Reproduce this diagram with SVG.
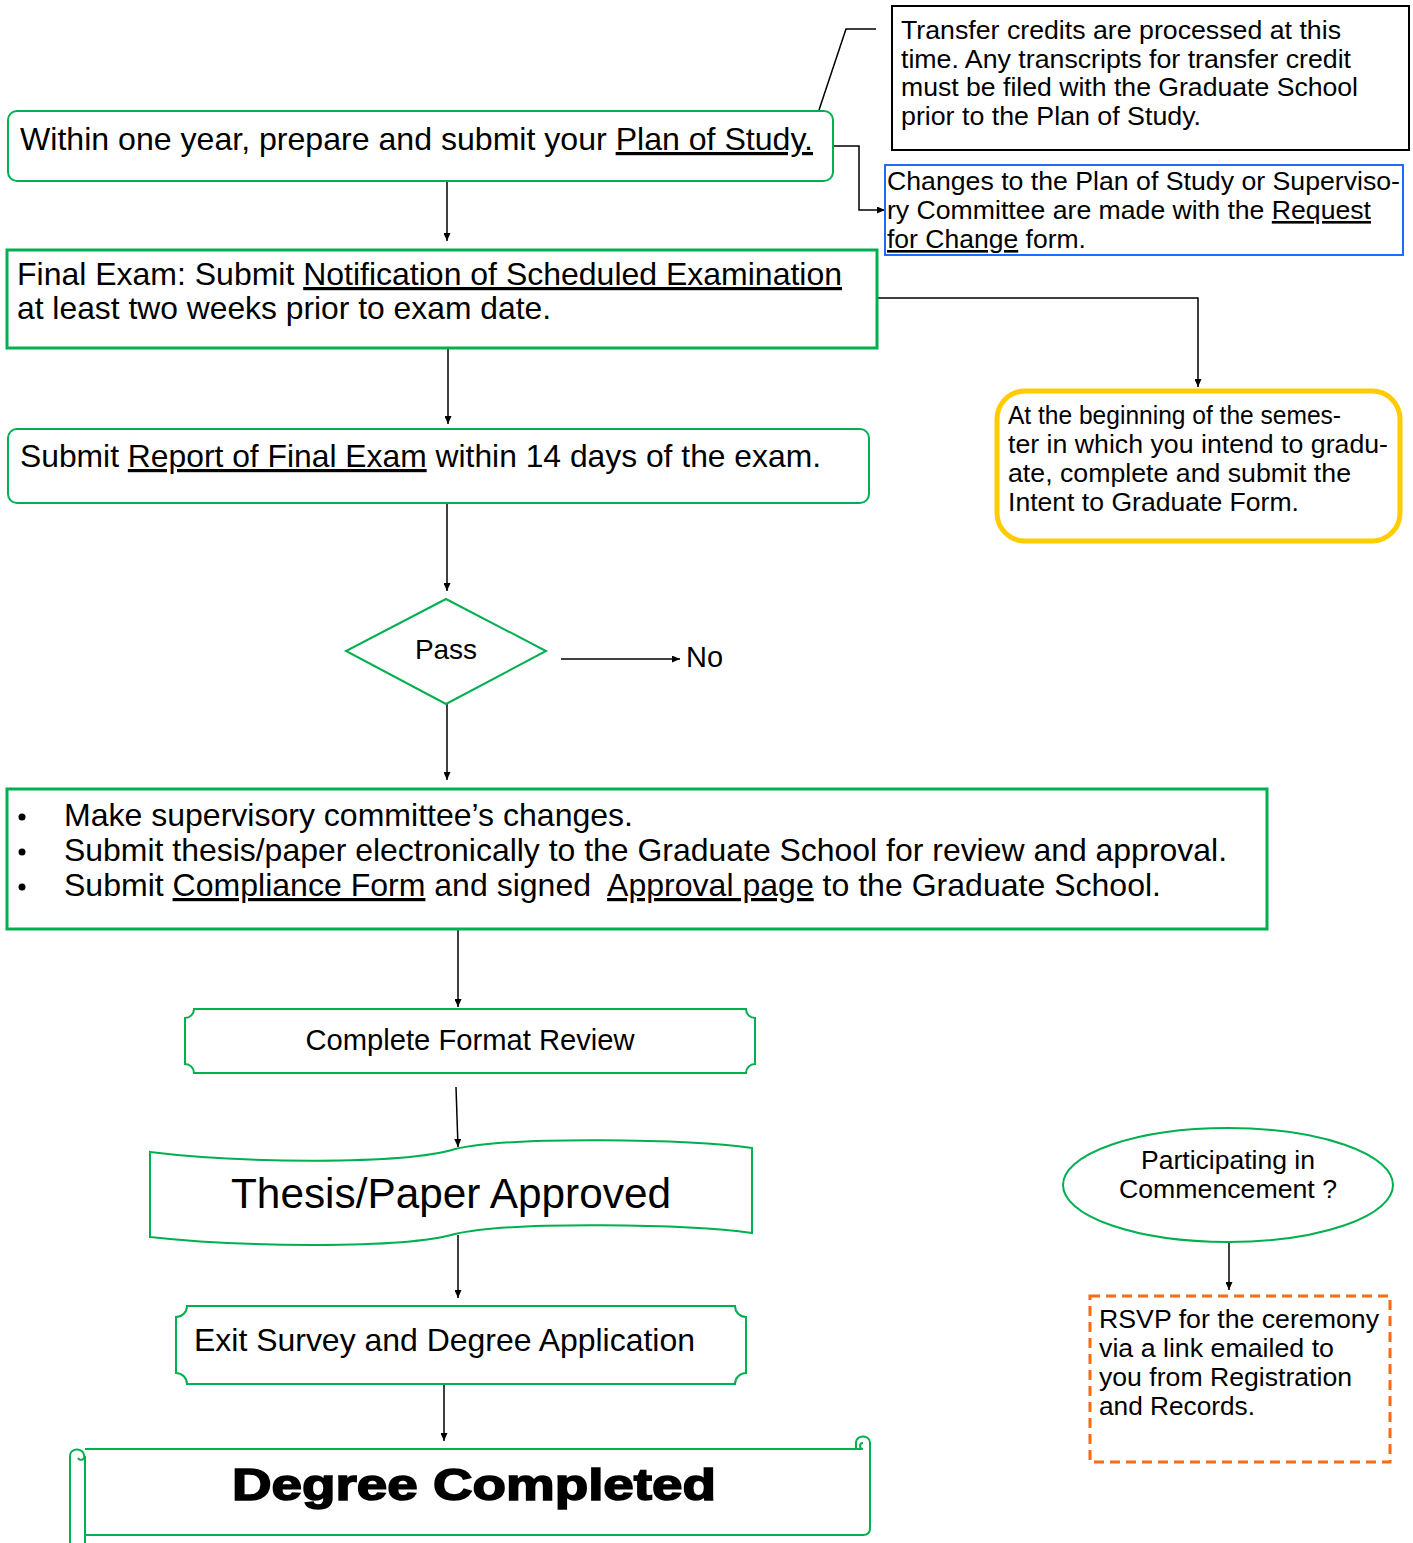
<svg xmlns="http://www.w3.org/2000/svg" width="1413" height="1543" viewBox="0 0 1413 1543">
<style>
text{font-family:"Liberation Sans",Arial,sans-serif;fill:#000}
.g{fill:#fff;stroke:#00B050;stroke-width:2}
.g3{fill:#fff;stroke:#00B050;stroke-width:3}
.u{text-decoration:underline}
.c{fill:none;stroke:#000;stroke-width:1.5}
.t32{font-size:32px}
.t26{font-size:26px}
.t25{font-size:25px}
</style>
<defs>
<marker id="ah" markerUnits="userSpaceOnUse" markerWidth="8" markerHeight="7" refX="8" refY="3.5" orient="auto">
<path d="M0,0 L8,3.5 L0,7 z" fill="#000"/>
</marker>
</defs>
<rect width="1413" height="1543" fill="#fff"/>

<g id="connectors">
<path class="c" d="M819,110 L846,29 L876,29"/>
<path class="c" d="M447,181 V241" marker-end="url(#ah)"/>
<path class="c" d="M448,348 V424" marker-end="url(#ah)"/>
<path class="c" d="M447,503 V591" marker-end="url(#ah)"/>
<path class="c" d="M447,704 V780" marker-end="url(#ah)"/>
<path class="c" d="M561,659 H680" marker-end="url(#ah)"/>
<path class="c" d="M458,929 V1007" marker-end="url(#ah)"/>
<path class="c" d="M456,1087 L458,1147" marker-end="url(#ah)"/>
<path class="c" d="M458,1235 V1298" marker-end="url(#ah)"/>
<path class="c" d="M444,1384 V1441" marker-end="url(#ah)"/>
<path class="c" d="M833,146 H859 V210 H885" marker-end="url(#ah)"/>
<path class="c" d="M877,298 H1198 V387" marker-end="url(#ah)"/>
<path class="c" d="M1229,1243 V1290" marker-end="url(#ah)"/>
</g>

<g id="plan-of-study">
<rect class="g" x="8" y="111" width="825" height="70" rx="9"/>
<text class="t32" x="20" y="150" textLength="793" lengthAdjust="spacingAndGlyphs">Within one year, prepare and submit your <tspan class="u">Plan of Study.</tspan></text>
</g>

<g id="transfer-note">
<rect x="892" y="6" width="517" height="144" fill="#fff" stroke="#000" stroke-width="2"/>
<text class="t26" x="901" y="39" textLength="440" lengthAdjust="spacingAndGlyphs">Transfer credits are processed at this</text>
<text class="t26" x="901" y="68" textLength="450" lengthAdjust="spacingAndGlyphs">time. Any transcripts for transfer credit</text>
<text class="t26" x="901" y="96" textLength="457" lengthAdjust="spacingAndGlyphs">must be filed with the Graduate School</text>
<text class="t26" x="901" y="125" textLength="300" lengthAdjust="spacingAndGlyphs">prior to the Plan of Study.</text>
</g>

<g id="change-note">
<rect x="885" y="165" width="518" height="90" fill="#fff" stroke="#1F6BFF" stroke-width="2"/>
<text class="t26" x="887" y="190" textLength="513" lengthAdjust="spacingAndGlyphs">Changes to the Plan of Study or Superviso-</text>
<text class="t26" x="887" y="219" textLength="484" lengthAdjust="spacingAndGlyphs">ry Committee are made with the <tspan class="u">Request</tspan></text>
<text class="t26" x="887" y="248" textLength="199" lengthAdjust="spacingAndGlyphs"><tspan class="u">for Change</tspan> form.</text>
</g>

<g id="final-exam">
<rect class="g3" x="7" y="250" width="870" height="98"/>
<text class="t32" x="17" y="285" textLength="825" lengthAdjust="spacingAndGlyphs">Final Exam: Submit <tspan class="u">Notification of Scheduled Examination</tspan></text>
<text class="t32" x="17" y="319" textLength="534" lengthAdjust="spacingAndGlyphs">at least two weeks prior to exam date.</text>
</g>

<g id="intent-to-graduate">
<rect x="997" y="391" width="403" height="150" rx="28" fill="#fff" stroke="#FFCC00" stroke-width="5"/>
<text class="t25" x="1008" y="424" textLength="333" lengthAdjust="spacingAndGlyphs">At the beginning of the semes-</text>
<text class="t25" x="1008" y="453" textLength="380" lengthAdjust="spacingAndGlyphs">ter in which you intend to gradu-</text>
<text class="t25" x="1008" y="482" textLength="343" lengthAdjust="spacingAndGlyphs">ate, complete and submit the</text>
<text class="t25" x="1008" y="511" textLength="291" lengthAdjust="spacingAndGlyphs">Intent to Graduate Form.</text>
</g>

<g id="report-final-exam">
<rect class="g" x="8" y="429" width="861" height="74" rx="9"/>
<text class="t32" x="20" y="467" textLength="801" lengthAdjust="spacingAndGlyphs">Submit <tspan class="u">Report of Final Exam</tspan> within 14 days of the exam.</text>
</g>

<g id="pass">
<polygon class="g" points="446,599 546,651 446,704 346,651"/>
<text x="446" y="659" font-size="28" text-anchor="middle">Pass</text>
</g>

<g id="no">
<text x="686" y="667" font-size="29">No</text>
</g>

<g id="submit-thesis">
<rect class="g3" x="7" y="789" width="1260" height="140"/>
<circle cx="22" cy="817" r="3.5"/>
<circle cx="22" cy="852" r="3.5"/>
<circle cx="22" cy="887" r="3.5"/>
<text class="t32" x="64" y="826" textLength="569" lengthAdjust="spacingAndGlyphs">Make supervisory committee’s changes.</text>
<text class="t32" x="64" y="861" textLength="1163" lengthAdjust="spacingAndGlyphs">Submit thesis/paper electronically to the Graduate School for review and approval.</text>
<text class="t32" x="64" y="896" textLength="1097" lengthAdjust="spacingAndGlyphs" xml:space="preserve">Submit <tspan class="u">Compliance Form</tspan> and signed  <tspan class="u">Approval page</tspan> to the Graduate School.</text>
</g>

<g id="format-review">
<path class="g" d="M194,1009 H746 A9,9 0 0 0 755,1018 V1064 A9,9 0 0 0 746,1073 H194 A9,9 0 0 0 185,1064 V1018 A9,9 0 0 0 194,1009 Z"/>
<text x="470" y="1050" font-size="29" text-anchor="middle" textLength="329" lengthAdjust="spacingAndGlyphs">Complete Format Review</text>
</g>

<g id="thesis-approved">
<path class="g" d="M150,1152 C230,1162 400,1166 455,1149 C510,1136 690,1139 752,1148 V1233 C690,1224 510,1221 455,1234 C400,1250 230,1246 150,1237 Z"/>
<text x="231" y="1208" font-size="42" textLength="440" lengthAdjust="spacingAndGlyphs">Thesis/Paper Approved</text>
</g>

<g id="exit-survey">
<path class="g" d="M187,1306 H735 A11,11 0 0 0 746,1317 V1373 A11,11 0 0 0 735,1384 H187 A11,11 0 0 0 176,1373 V1317 A11,11 0 0 0 187,1306 Z"/>
<text class="t32" x="194" y="1351" textLength="501" lengthAdjust="spacingAndGlyphs">Exit Survey and Degree Application</text>
</g>

<g id="degree-completed">
<path d="M85,1449 H862 M870,1443 V1528 Q870,1535 863,1535 H85 M70,1456 V1543 M85,1456 V1543" fill="none" stroke="#00B050" stroke-width="2"/>
<path d="M70,1456 A7,6 0 0 1 84,1455 A3,3 0 0 1 78,1458" fill="none" stroke="#00B050" stroke-width="2"/>
<path d="M856,1449 V1442 A7,6 0 0 1 870,1443 V1448 M863,1449 A3,3 0 0 1 863,1443" fill="none" stroke="#00B050" stroke-width="2"/>
<text x="232" y="1500" font-size="44" font-weight="900" stroke="#000" stroke-width="1.6" textLength="484" lengthAdjust="spacingAndGlyphs">Degree Completed</text>
</g>

<g id="commencement">
<ellipse class="g" cx="1228" cy="1185" rx="165" ry="57"/>
<text class="t25" x="1228" y="1169" text-anchor="middle" textLength="174" lengthAdjust="spacingAndGlyphs">Participating in</text>
<text class="t25" x="1228" y="1198" text-anchor="middle" textLength="218" lengthAdjust="spacingAndGlyphs">Commencement ?</text>
</g>

<g id="rsvp">
<rect x="1090" y="1296" width="300" height="166" fill="#fff" stroke="#FF6A13" stroke-width="3" stroke-dasharray="10,6"/>
<text class="t25" x="1099" y="1328" textLength="280" lengthAdjust="spacingAndGlyphs">RSVP for the ceremony</text>
<text class="t25" x="1099" y="1357" textLength="235" lengthAdjust="spacingAndGlyphs">via a link emailed to</text>
<text class="t25" x="1099" y="1386" textLength="253" lengthAdjust="spacingAndGlyphs">you from Registration</text>
<text class="t25" x="1099" y="1415" textLength="156" lengthAdjust="spacingAndGlyphs">and Records.</text>
</g>
</svg>
